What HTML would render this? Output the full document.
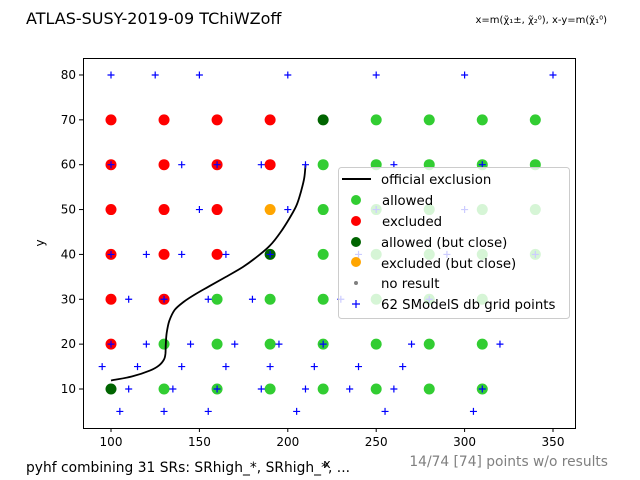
<!DOCTYPE html>
<html><head><meta charset="utf-8"><style>
body{margin:0;background:#fff;}
svg{display:block;font-family:"DejaVu Sans","Liberation Sans",sans-serif;}
</style></head><body>
<svg id="chart" width="640" height="480" xmlns="http://www.w3.org/2000/svg">
<rect width="640" height="480" fill="#fff"/>
<text x="26" y="24" font-size="16">ATLAS-SUSY-2019-09 TChiWZoff</text>
<text x="607" y="23" font-size="10" text-anchor="end">x=m(χ̃₁±, χ̃₂⁰), x-y=m(χ̃₁⁰)</text>
<g id="plot"></g>
<rect x="83.5" y="58.5" width="492" height="370" fill="none" stroke="#000" stroke-width="1"/>
<g id="xticks"></g>
<g id="yticks"></g>
<text x="327" y="468" font-size="12" text-anchor="middle">x</text>
<text transform="translate(44,243) rotate(-90)" font-size="12" text-anchor="middle">y</text>
<text x="26" y="472" font-size="13.8" textLength="324">pyhf combining 31 SRs: SRhigh_*, SRhigh_*, ...</text>
<text x="608" y="466" font-size="13.8" fill="#808080" text-anchor="end">14/74 [74] points w/o results</text>
<g>
<rect x="338.5" y="167.5" width="231" height="151" rx="3" fill="#fff" fill-opacity="0.8" stroke="#ccc"/>
<line x1="342" y1="179" x2="371" y2="179" stroke="#000" stroke-width="2"/>
<text x="381" y="184" font-size="13.3">official exclusion</text>
<circle cx="356" cy="200" r="5" fill="#32cd32"/>
<text x="382" y="205" font-size="13.3">allowed</text>
<circle cx="356" cy="221" r="5" fill="#ff0000"/>
<text x="382" y="226" font-size="13.3">excluded</text>
<circle cx="356" cy="242" r="5" fill="#006400"/>
<text x="381" y="247" font-size="13.3">allowed (but close)</text>
<circle cx="356" cy="262" r="5" fill="#ffa500"/>
<text x="381" y="268" font-size="13.3">excluded (but close)</text>
<circle cx="356" cy="283" r="2" fill="#808080"/>
<text x="381" y="288" font-size="13.3">no result</text>
<path d="M352 304h8M356 300v8" stroke="#0000ff" stroke-width="1.2"/>
<text x="381" y="309" font-size="13.3">62 SModelS db grid points</text>
</g>
</svg>
<script>
const xTicks=[100,150,200,250,300,350];
const yTicks=[10,20,30,40,50,60,70,80];
const allowedX=[250,280,310,340, 220,250,280,310,340, 220,250,280,310,340, 220,250,280,310,340, 160,190,220,250,280,310, 130,160,190,220,250,280,310, 130,160,190,220,250,280,310];
const allowedY=[70,70,70,70, 60,60,60,60,60, 50,50,50,50,50, 40,40,40,40,40, 30,30,30,30,30,30, 20,20,20,20,20,20,20, 10,10,10,10,10,10,10];
const excludedX=[100,130,160,190, 100,130,160,190, 100,130,160, 100,130,160, 100,130, 100];
const excludedY=[70,70,70,70, 60,60,60,60, 50,50,50, 40,40,40, 30,30, 20];
const closeAllowedX=[220,190,100];
const closeAllowedY=[70,40,10];
const closeExcludedX=[190];
const closeExcludedY=[50];
const gridX=[100,125,150,200,250,300,350, 100,140,160,185,210,260,310, 150,200,250,300, 100,120,140,165,190,240,290,340, 110,130,155,180,230,280, 100,120,145,170,195,220,270,320, 95,115,140,165,190,215,240,265, 110,135,160,185,210,235,260,310, 105,130,155,205,255,305];
const gridY=[80,80,80,80,80,80,80, 60,60,60,60,60,60,60, 50,50,50,50, 40,40,40,40,40,40,40,40, 30,30,30,30,30,30, 20,20,20,20,20,20,20,20, 15,15,15,15,15,15,15,15, 10,10,10,10,10,10,10,10, 5,5,5,5,5,5];
const exclX=[100,112,122,127,130,130.8,131,131.5,133,136,141,148,156,165,174.6,183,190,196,201,205,207.5,209.3,210];
const exclY=[11.9,12.8,14.1,15.2,16.6,18,20,22.5,25.2,27.6,29.4,31.2,33,35,37.2,39.6,42,45,48.1,51,54.1,57,59.9];
const NS="http://www.w3.org/2000/svg";
const sx=v=>111+(v-100)*1.768;
const sy=v=>389-(v-10)*4.486;
const plot=document.getElementById('plot');
function mk(tag,attrs,parent){const e=document.createElementNS(NS,tag);for(const k in attrs)e.setAttribute(k,attrs[k]);parent.appendChild(e);return e;}
const xg=document.getElementById('xticks');
xTicks.forEach(t=>{
 const l=mk('line',{x1:sx(t),x2:sx(t),y1:428,y2:432,stroke:'#000'},xg);
 
 
 const tx=mk('text',{x:sx(t),y:446,'font-size':12,'text-anchor':'middle'},xg);
 tx.textContent=t;
 
 
});
const yg=document.getElementById('yticks');
yTicks.forEach(t=>{
 const l=mk('line',{x1:79,x2:83,y1:sy(t),y2:sy(t),stroke:'#000'},yg);
 
 
 const tx=mk('text',{x:76,y:sy(t)+4,'font-size':12,'text-anchor':'end'},yg);
 tx.textContent=t;
 
 
});
function dots(xs,ys,col,name){xs.forEach((x,i)=>{
 const c=mk('circle',{cx:sx(x),cy:sy(ys[i]),r:5.5,fill:col},plot);
 
 
});}
dots(allowedX,allowedY,'#32cd32','allowed-point');
dots(excludedX,excludedY,'#ff0000','excluded-point');
dots(closeAllowedX,closeAllowedY,'#006400','allowed-close-point');
dots(closeExcludedX,closeExcludedY,'#ffa500','excluded-close-point');
const P=exclX.map((x,i)=>[sx(x),sy(exclY[i])]);
let d='M'+P[0][0].toFixed(1)+' '+P[0][1].toFixed(1);
for(let i=0;i<P.length-1;i++){
 const p0=P[Math.max(0,i-1)],p1=P[i],p2=P[i+1],p3=P[Math.min(P.length-1,i+2)];
 const c1=[p1[0]+(p2[0]-p0[0])/6,p1[1]+(p2[1]-p0[1])/6];
 const c2=[p2[0]-(p3[0]-p1[0])/6,p2[1]-(p3[1]-p1[1])/6];
 d+=`C${c1[0].toFixed(1)} ${c1[1].toFixed(1)} ${c2[0].toFixed(1)} ${c2[1].toFixed(1)} ${p2[0].toFixed(1)} ${p2[1].toFixed(1)}`;
}
const p=mk('path',{d:d,fill:'none',stroke:'#000','stroke-width':1.8},plot);


gridX.forEach((x,i)=>{
 const X=sx(x),Y=sy(gridY[i]);
 const g=mk('path',{d:`M${X-3.5} ${Y}h7M${X} ${Y-3.5}v7`,stroke:'#0000ff','stroke-width':1.2},plot);
 
 
});
</script>
</body></html>
